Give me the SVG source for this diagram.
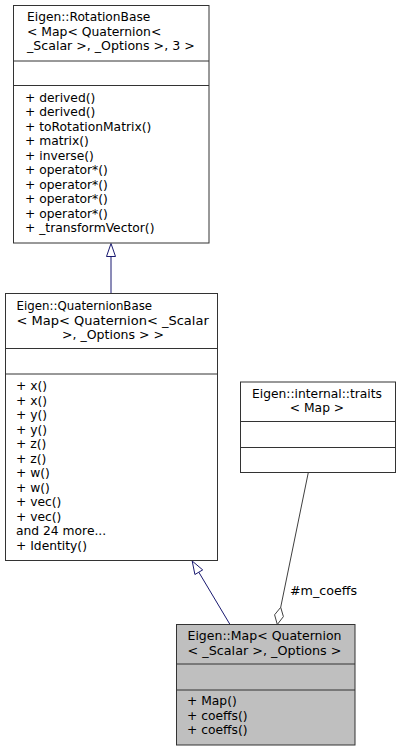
<svg xmlns="http://www.w3.org/2000/svg" width="401" height="751" viewBox="0 0 401 751">
<style>
.b{fill:#ffffff;stroke:#333333;stroke-width:1}
.g{fill:#bfbfbf;stroke:#333333;stroke-width:1}
.d{stroke:#333333;stroke-width:1;fill:none}
text{font-family:"DejaVu Sans","Liberation Sans",sans-serif;font-size:12.3px;fill:#000000}
.c{text-anchor:middle}
.inh{stroke:#191970;stroke-width:1;fill:none}
.inhh{stroke:#191970;stroke-width:1;fill:#ffffff}
.agg{stroke:#404040;stroke-width:1;fill:none}
.aggh{stroke:#404040;stroke-width:1;fill:#ffffff}
</style>
<rect width="401" height="751" fill="#ffffff"/>
<g id="connectors">
<line class="inh" x1="111" y1="293.5" x2="111" y2="256.5"/>
<polygon class="inhh" points="111,243.5 115.5,256.5 106.5,256.5"/>
<line class="inh" x1="230" y1="624.5" x2="198.8" y2="572.2"/>
<polygon class="inhh" points="192.2,561 202.7,569.9 194.9,574.5"/>
<line class="agg" x1="308.3" y1="472.5" x2="280.7" y2="607.3"/>
<polygon class="aggh" points="277.3,624.5 283.4,616.6 280.7,607.3 274.6,614.8"/>
<text x="290" y="595" textLength="67" lengthAdjust="spacingAndGlyphs">#m_coeffs</text>
</g>
<g id="node_rotationbase">
<rect class="b" x="13.5" y="5.5" width="195.5" height="237.5"/>
<line class="d" x1="13.5" y1="61" x2="209" y2="61"/>
<line class="d" x1="13.5" y1="85.5" x2="209" y2="85.5"/>
<text x="27" y="21" textLength="123.4" lengthAdjust="spacingAndGlyphs">Eigen::RotationBase</text>
<text x="27" y="35.5" textLength="134.3" lengthAdjust="spacingAndGlyphs">&lt; Map&lt; Quaternion&lt;</text>
<text x="27" y="50" textLength="167.7" lengthAdjust="spacingAndGlyphs">_Scalar &gt;, _Options &gt;, 3 &gt;</text>
<text x="25" y="101.5">+ derived()</text>
<text x="25" y="116">+ derived()</text>
<text x="25" y="130.5">+ toRotationMatrix()</text>
<text x="25" y="145">+ matrix()</text>
<text x="25" y="159.5">+ inverse()</text>
<text x="25" y="174">+ operator*()</text>
<text x="25" y="188.5">+ operator*()</text>
<text x="25" y="203">+ operator*()</text>
<text x="25" y="217.5">+ operator*()</text>
<text x="25" y="232">+ _transformVector()</text>
</g>
<g id="node_quaternionbase">
<rect class="b" x="5.5" y="293.5" width="212" height="267"/>
<line class="d" x1="5.5" y1="348.5" x2="217.5" y2="348.5"/>
<line class="d" x1="5.5" y1="374" x2="217.5" y2="374"/>
<text x="16.5" y="310" textLength="135.6" lengthAdjust="spacingAndGlyphs">Eigen::QuaternionBase</text>
<text x="16.5" y="324.5" textLength="192.3" lengthAdjust="spacingAndGlyphs">&lt; Map&lt; Quaternion&lt; _Scalar</text>
<text class="c" x="113" y="339" textLength="102" lengthAdjust="spacingAndGlyphs">&gt;, _Options &gt; &gt;</text>
<text x="16" y="390">+ x()</text>
<text x="16" y="404.5">+ x()</text>
<text x="16" y="419">+ y()</text>
<text x="16" y="433.5">+ y()</text>
<text x="16" y="448">+ z()</text>
<text x="16" y="462.5">+ z()</text>
<text x="16" y="477">+ w()</text>
<text x="16" y="491.5">+ w()</text>
<text x="16" y="506">+ vec()</text>
<text x="16" y="520.5">+ vec()</text>
<text x="16" y="535">and 24 more...</text>
<text x="16" y="549.5">+ Identity()</text>
</g>
<g id="node_traits">
<rect class="b" x="240.5" y="382" width="155" height="90.5"/>
<line class="d" x1="240.5" y1="421.5" x2="395.5" y2="421.5"/>
<line class="d" x1="240.5" y1="447.5" x2="395.5" y2="447.5"/>
<text class="c" x="317" y="397.5" textLength="130" lengthAdjust="spacingAndGlyphs">Eigen::internal::traits</text>
<text class="c" x="317" y="412">&lt; Map &gt;</text>
</g>
<g id="node_map">
<rect class="g" x="176.5" y="624.5" width="178.5" height="120.5"/>
<line class="d" x1="176.5" y1="664" x2="355" y2="664"/>
<line class="d" x1="176.5" y1="690" x2="355" y2="690"/>
<text x="187.5" y="640" textLength="154" lengthAdjust="spacingAndGlyphs">Eigen::Map&lt; Quaternion</text>
<text x="187.5" y="654.5" textLength="154" lengthAdjust="spacingAndGlyphs">&lt; _Scalar &gt;, _Options &gt;</text>
<text x="187" y="705">+ Map()</text>
<text x="187" y="719.5">+ coeffs()</text>
<text x="187" y="734">+ coeffs()</text>
</g>
</svg>
